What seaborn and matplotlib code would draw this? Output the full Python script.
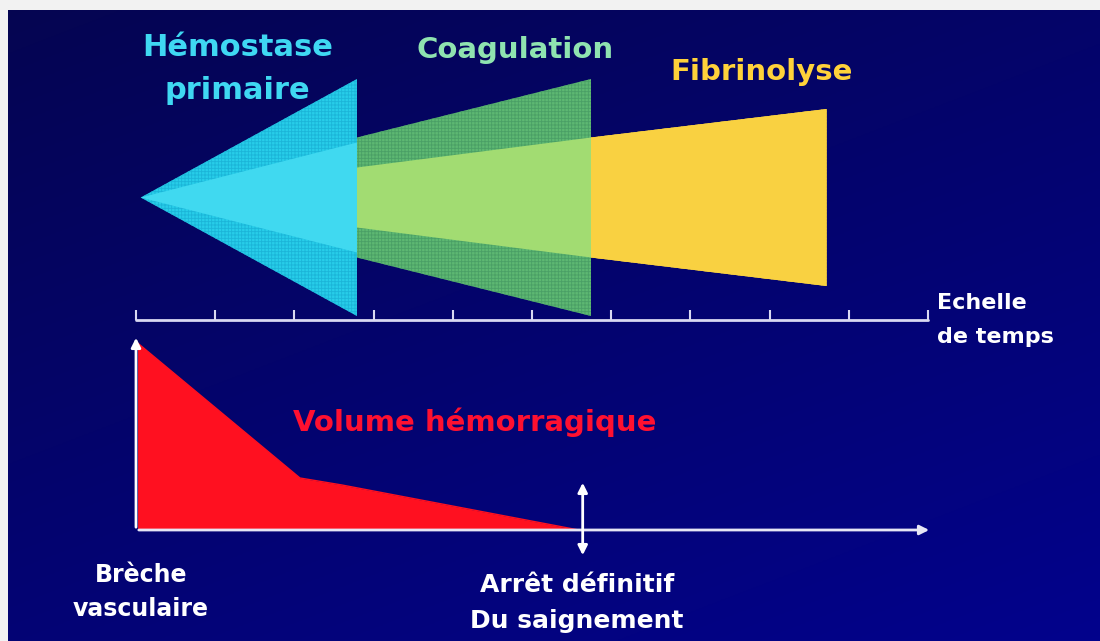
import numpy as np
import pandas as pd
import matplotlib.pyplot as plt
import seaborn as sns
from matplotlib.patches import Polygon

sns.set_theme(style="dark")
plt.rcParams['font.family'] = ['DejaVu Sans']

# time scale: 10 intervals
time_ticks = np.arange(0, 11)

# phases: start/end on the time scale, half spread at start/end (outer and inner band)
phase_names = ["Hémostase\nprimaire", "Coagulation", "Fibrinolyse"]
phase_start = [0.06, 2.79, 5.745]
phase_end = [2.79, 5.745, 8.72]
outer_start = [0, 60, 60]
outer_end = [118.5, 118.5, 88.5]
inner_start = [0, 30, 60]
inner_end = [55, 60, 88.5]
phase_outer_col = ["#27cde9", "#5db872", "#f9d141"]
phase_inner_col = ["#40d9f0", "#a2dc72", "#f9d141"]
phase_hatch_col = ["#1bb5d8", "#4a9f66", "#f0c838"]
phase_label_col = ["#3fd8f2", "#8fe3b0", "#ffd23a"]
phase_label_t = [1.28, 4.79, 7.9]
phase_label_y = [128.5, 147.5, 125.5]
phase_label_size = [22, 21, 21]

# bleeding volume over time
vol_t = [0.02, 2.07, 2.6, 5.59]
vol_v = [187, 52, 45, 0]
stop_t = 5.64

fig = plt.figure(figsize=(11, 6.41), dpi=100)
fig.patch.set_facecolor("#f2f2f2")

# background gradient
bg = fig.add_axes([8 / 1100, 0, 1 - 8 / 1100, 1 - 10 / 641])
grad = np.linspace(0, 1, 256)
gy, gx = np.meshgrid(grad, grad, indexing="ij")
g = 0.6 * gy + 0.4 * gx
c0 = np.array([0.02, 0.02, 0.32])
c1 = np.array([0.01, 0.01, 0.55])
img = c0[None, None, :] * (1 - g[..., None]) + c1[None, None, :] * g[..., None]
bg.imshow(img, aspect="auto", extent=[0, 1, 0, 1], origin="upper")
bg.set_axis_off()

xlim = (-136 / 79.2, 964 / 79.2)

# ---- top: phases ----
ax = fig.add_axes([0, 1 - 330 / 641, 1, 330 / 641])
ax.set_xlim(*xlim)
ax.set_ylim(-132.5, 197.5)
ax.set_axis_off()
ax.patch.set_alpha(0)

plt.rcParams['hatch.linewidth'] = 0.6
for i in range(3):
    s, e = phase_start[i], phase_end[i]
    outer = [(s, outer_start[i]), (e, outer_end[i]), (e, -outer_end[i]), (s, -outer_start[i])]
    ax.add_patch(Polygon(outer, closed=True, facecolor=phase_outer_col[i],
                         edgecolor=phase_hatch_col[i], hatch="+++++", lw=0, zorder=2))
    inner = [(s, inner_start[i]), (e, inner_end[i]), (e, -inner_end[i]), (s, -inner_start[i])]
    ax.add_patch(Polygon(inner, closed=True, facecolor=phase_inner_col[i], lw=0, zorder=3))
    ax.text(phase_label_t[i], phase_label_y[i], phase_names[i], color=phase_label_col[i],
            fontsize=phase_label_size[i], fontweight="bold", ha="center", va="center",
            linespacing=1.65, zorder=5)

# time scale
axis_col = "#d9d9f2"
axis_y = -122.5
sns.lineplot(x=[time_ticks[0], time_ticks[-1]], y=[axis_y, axis_y], ax=ax,
             color=axis_col, lw=2, zorder=4)
ax.vlines(time_ticks, axis_y, axis_y + 10, color=axis_col, lw=1.5, zorder=4)
ax.text(10.11, axis_y, "Echelle\nde temps", color="white", fontsize=16,
        fontweight="bold", ha="left", va="center", linespacing=1.85, clip_on=False)

# ---- bottom: volume ----
ax2 = fig.add_axes([0, 0, 1, 311 / 641])
ax2.set_xlim(*xlim)
ax2.set_ylim(-111, 200)
ax2.set_axis_off()
ax2.patch.set_alpha(0)

vol = pd.DataFrame({"t": vol_t, "v": vol_v})
ax2.fill_between(vol["t"], 0, vol["v"], color="#ff1020", lw=0, zorder=2)
sns.lineplot(data=vol, x="t", y="v", ax=ax2, color="#ff1020", lw=1, zorder=2)

arrow_kw = dict(arrowstyle="-|>", color="white", lw=2, mutation_scale=14)
ax2.annotate("", xy=(0, 195), xytext=(0, 0), arrowprops=arrow_kw, zorder=3)
ax2.annotate("", xy=(10.05, 0), xytext=(0, 0),
             arrowprops=dict(arrowstyle="-|>", color="#e6e6f5", lw=2, mutation_scale=14), zorder=3)
ax2.annotate("", xy=(stop_t, 50), xytext=(stop_t, -28),
             arrowprops=dict(arrowstyle="<|-|>", color="white", lw=2, mutation_scale=14), zorder=4)

ax2.text(4.28, 108, "Volume hémorragique", color="#ff1030", fontsize=21,
         fontweight="bold", ha="center", va="center")
ax2.text(0.06, -62, "Brèche\nvasculaire", color="white", fontsize=17,
         fontweight="bold", ha="center", va="center", linespacing=1.55)
ax2.text(5.57, -73, "Arrêt définitif\nDu saignement", color="white", fontsize=18,
         fontweight="bold", ha="center", va="center", linespacing=1.6)

fig.savefig("out.png", dpi=100, facecolor=fig.get_facecolor())
